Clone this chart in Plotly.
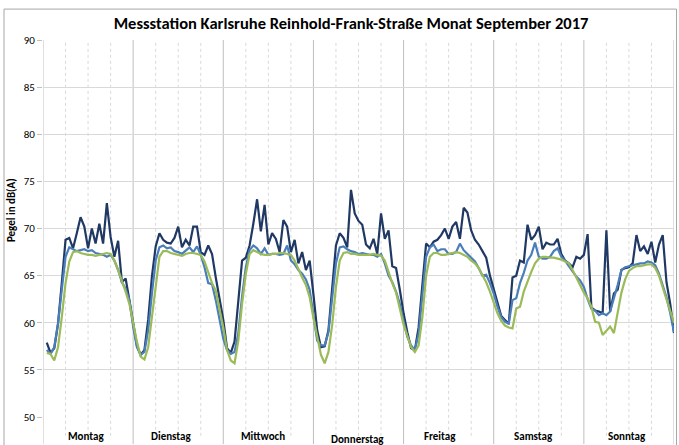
import plotly.graph_objects as go

# Wochentage (je 24 Stundenwerte, Stunde 1..24)
tage = ["Montag", "Dienstag", "Mittwoch", "Donnerstag", "Freitag", "Samstag", "Sonntag"]
y_ticks = [50, 55, 60, 65, 70, 75, 80, 85, 90]

# Stundenmittel, dunkelblaue Reihe (Mo..So, je 24 Werte)
reihe_dunkel = [
    57.9, 56.8, 57.3, 59.9, 64.2, 68.8, 69.0, 67.9, 69.5, 71.2, 70.2, 67.9, 70.0, 68.4, 70.5, 68.4, 72.7, 69.1, 67.0, 68.7, 64.3, 64.7, 62.4, 59.9,
    57.6, 56.6, 57.1, 60.3, 64.9, 68.1, 69.5, 68.8, 68.5, 68.4, 69.0, 70.2, 68.0, 68.8, 68.2, 70.2, 70.2, 67.5, 67.2, 68.2, 67.3, 64.8, 62.6, 60.3,
    57.3, 56.8, 58.0, 62.3, 66.6, 66.9, 68.2, 70.5, 73.1, 69.7, 72.5, 68.3, 69.5, 68.9, 67.5, 70.9, 70.2, 67.5, 68.8, 66.3, 67.5, 65.6, 66.6, 63.0,
    59.2, 57.4, 57.5, 59.2, 63.8, 68.2, 69.5, 69.0, 68.0, 74.1, 71.6, 70.8, 70.4, 68.3, 67.9, 68.9, 67.3, 71.6, 68.9, 69.8, 66.0, 65.8, 63.5, 61.0,
    59.0, 57.3, 57.1, 59.5, 64.0, 68.4, 68.0, 68.6, 68.8, 69.3, 70.0, 68.9, 70.2, 70.7, 68.9, 72.2, 71.7, 69.8, 68.8, 68.3, 67.6, 66.9, 65.0, 63.6,
    62.2, 60.7, 60.3, 59.9, 64.8, 65.0, 66.6, 66.4, 70.4, 68.8, 69.3, 70.2, 67.8, 68.5, 68.3, 68.3, 68.9, 67.3, 66.6, 66.3, 65.9, 67.0, 66.8, 67.2,
    69.4, 61.6, 61.3, 61.2, 61.0, 69.8, 61.2, 63.1, 63.5, 65.6, 65.8, 65.9, 66.3, 69.3, 67.6, 68.1, 67.3, 68.6, 66.4, 68.3, 69.3, 64.3, 62.0, 58.9,
]

# Stundenmittel, mittelblaue Reihe
reihe_blau = [
    57.1, 56.7, 57.4, 59.9, 63.5, 67.0, 68.0, 67.8, 67.6, 67.7, 67.8, 67.6, 67.7, 67.4, 67.3, 67.2, 67.0, 67.2, 66.6, 65.6, 64.3, 63.6, 62.4, 59.6,
    57.4, 56.6, 56.9, 59.2, 63.1, 66.6, 68.0, 68.2, 67.9, 68.0, 67.6, 67.5, 67.3, 67.7, 68.0, 67.5, 68.1, 67.2, 65.9, 64.2, 64.1, 62.4, 60.5, 58.3,
    57.1, 56.7, 56.9, 58.9, 62.8, 65.9, 67.7, 68.2, 67.9, 67.3, 67.9, 67.2, 67.3, 67.3, 67.2, 67.3, 68.2, 66.6, 66.2, 65.6, 65.2, 64.6, 63.5, 61.0,
    58.1, 57.6, 57.6, 59.0, 62.4, 66.3, 68.0, 68.1, 67.8, 67.6, 67.5, 67.3, 67.4, 67.3, 67.2, 67.2, 67.0, 67.3, 66.3, 65.0, 64.3, 63.3, 62.0, 60.2,
    58.5, 57.6, 57.1, 58.8, 62.7, 67.0, 68.0, 68.3, 67.6, 67.8, 67.8, 67.3, 67.3, 67.5, 68.4, 67.7, 67.3, 66.9, 66.5, 65.8, 65.0, 65.1, 64.2, 63.1,
    61.7, 60.6, 60.1, 59.9, 62.4, 62.6, 64.2, 65.3, 66.6, 67.2, 68.5, 67.0, 66.8, 66.8, 67.0, 67.6, 67.9, 67.0, 66.6, 66.0, 65.4, 64.9, 64.5, 63.8,
    62.5, 61.5, 61.3, 60.8, 61.0, 60.8, 61.2, 62.5, 64.0, 65.6, 65.9, 66.0, 66.1, 66.2, 66.3, 66.3, 66.5, 66.4, 66.1, 65.2, 64.0, 62.7, 61.0, 59.0,
]

# Stundenmittel, grüne Reihe
reihe_gruen = [
    56.8, 56.7, 56.0, 57.4, 60.6, 64.2, 66.5, 67.5, 67.6, 67.4, 67.3, 67.2, 67.2, 67.1, 67.2, 67.3, 67.4, 67.3, 66.6, 65.6, 64.5, 63.3, 62.0, 59.9,
    58.0, 56.4, 56.1, 57.4, 60.6, 64.2, 67.0, 67.6, 67.6, 67.4, 67.3, 67.2, 67.1, 67.3, 67.4, 67.4, 67.3, 67.2, 66.5, 65.3, 64.2, 63.4, 61.5, 59.5,
    57.1, 56.0, 55.7, 58.1, 62.0, 65.2, 67.3, 67.7, 67.5, 67.3, 67.2, 67.2, 67.3, 67.3, 67.4, 67.4, 67.3, 67.2, 66.6, 65.6, 64.8, 64.0, 62.7, 60.5,
    58.5, 56.6, 55.7, 56.9, 59.8, 63.8, 66.6, 67.4, 67.5, 67.3, 67.3, 67.2, 67.2, 67.2, 67.2, 67.3, 67.2, 67.1, 66.6, 65.3, 64.2, 63.2, 61.6, 59.8,
    58.6, 57.4, 56.9, 57.6, 60.6, 65.0, 67.0, 67.4, 67.4, 67.2, 67.2, 67.3, 67.4, 67.5, 67.4, 67.2, 67.0, 66.6, 66.3, 65.8, 65.1, 64.3, 63.3, 62.1,
    61.0, 60.2, 59.7, 59.5, 59.4, 61.5, 61.7, 63.3, 64.4, 65.4, 66.3, 66.8, 67.0, 67.0, 66.9, 66.9, 66.8, 66.7, 66.5, 66.3, 65.6, 64.8, 64.1, 63.2,
    62.6, 61.7, 60.1, 60.0, 58.7, 59.2, 59.6, 58.9, 61.2, 63.2, 64.6, 65.5, 65.8, 66.0, 66.0, 66.1, 66.2, 66.2, 65.8, 65.0, 63.8, 62.6, 61.3, 60.0,
]

STUNDEN_PRO_TAG = 24
n_tage = len(tage)
stunden = list(range(1, n_tage * STUNDEN_PRO_TAG + 1))

# Lage der Wochentagsbeschriftung (in Stunden ab Montag 0 Uhr)
tag_label_x = [11.4, 34.1, 58.5, 83.8, 105.6, 130.5, 155.6]

FONT = "Carlito, 'Liberation Sans Narrow', 'DejaVu Sans Condensed', 'Liberation Sans', Arial, sans-serif"
GRID = "#D9D9D9"
TAGLINIE = "#BFBFBF"

fig = go.Figure()
for werte, farbe in [(reihe_dunkel, "#1F3864"), (reihe_blau, "#4A7EBB"), (reihe_gruen, "#9BBB59")]:
    fig.add_trace(go.Scatter(
        x=stunden, y=werte, mode="lines",
        line=dict(color=farbe, width=2.2),
        hoverinfo="x+y", showlegend=False,
    ))

shapes = []
# Tagesgrenzen (durchgezogen) und 6-Stunden-Linien (gestrichelt)
for d in range(n_tage + 1):
    shapes.append(dict(type="line", xref="x", yref="paper",
                       x0=d * STUNDEN_PRO_TAG, x1=d * STUNDEN_PRO_TAG, y0=-0.072, y1=1,
                       line=dict(color=TAGLINIE, width=1), layer="below"))
    if d < n_tage:
        for h in (6, 12, 18):
            xv = d * STUNDEN_PRO_TAG + h
            shapes.append(dict(type="line", xref="x", yref="paper",
                               x0=xv, x1=xv, y0=-0.05, y1=1,
                               line=dict(color=GRID, width=1, dash="3px,3px"), layer="below"))
# Rahmen um das gesamte Diagramm
shapes.append(dict(type="rect", xref="paper", yref="paper",
                   x0=-0.0618, x1=1.004, y0=-0.08, y1=1.082,
                   line=dict(color="#A6A6A6", width=1), fillcolor="rgba(0,0,0,0)"))

annotations = []
for name, xpos in zip(tage, tag_label_x):
    annotations.append(dict(
        text=name, x=xpos, xref="x", y=-0.061 if name == "Donnerstag" else -0.053, yref="paper",
        showarrow=False, xanchor="center", yanchor="middle",
        font=dict(family=FONT, size=11, color="#000000", weight="bold"),
    ))
annotations.append(dict(
    text="Pegel in dB(A)", x=-0.05, xref="paper", y=0.55, yref="paper",
    textangle=-90, showarrow=False, xanchor="center", yanchor="middle",
    font=dict(family=FONT, size=11, color="#000000", weight="bold"),
))

fig.update_layout(
    width=679, height=445, autosize=False,
    margin=dict(l=43, r=4.5, t=40, b=28, pad=0),
    paper_bgcolor="white", plot_bgcolor="white",
    title=dict(
        text="Messstation Karlsruhe Reinhold-Frank-Straße Monat September 2017",
        x=0.517, xanchor="center", y=1 - 23 / 445, yanchor="middle",
        font=dict(family=FONT, size=16.5, color="#000000", weight="bold"),
    ),
    xaxis=dict(
        range=[0, n_tage * STUNDEN_PRO_TAG], showgrid=False, zeroline=False,
        showticklabels=False, ticks="", showline=False, fixedrange=True,
    ),
    yaxis=dict(
        range=[50, 90], tickvals=y_ticks, showgrid=True, gridcolor=GRID, gridwidth=1.2,
        zeroline=False, showline=False, ticks="outside", ticklen=5, tickcolor=TAGLINIE,
        tickfont=dict(family=FONT, size=11, color="#000000"),
    ),
    shapes=shapes,
    annotations=annotations,
)

fig.write_html("out.html")
